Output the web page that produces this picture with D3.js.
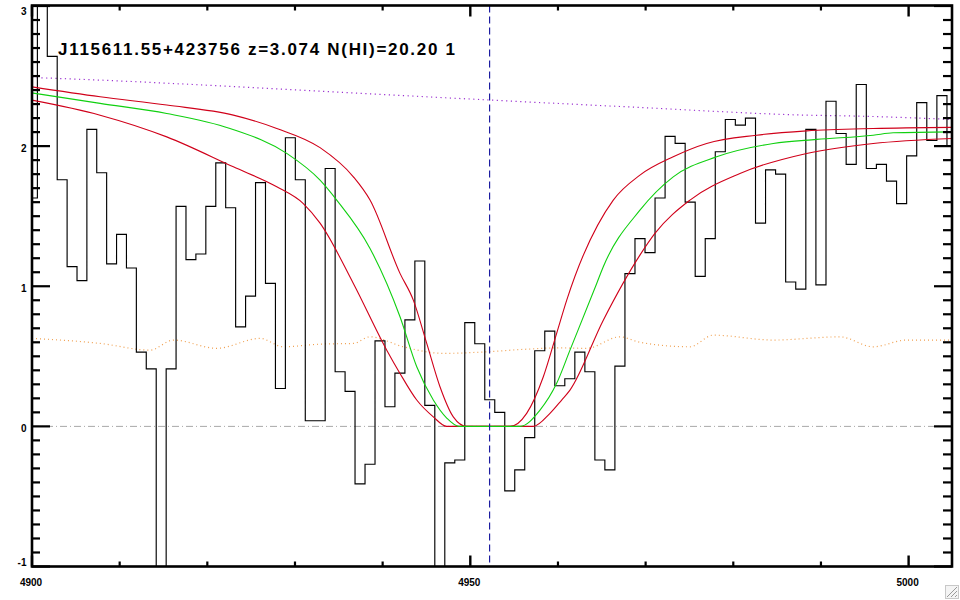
<!DOCTYPE html>
<html><head><meta charset="utf-8">
<script src="https://cdn.jsdelivr.net/npm/d3@7"></script>
<style>html,body{margin:0;padding:0;background:#fff;}svg{display:block;}</style>
</head><body>
<svg id="c" width="960" height="600"></svg>
<script>
// ---------------- data ----------------
const titleText = "J115611.55+423756 z=3.074 N(HI)=20.20 1";
const wavelengths = [4900.05,4901.18,4902.31,4903.44,4904.57,4905.70,4906.82,4907.95,4909.08,4910.21,
 4911.34,4912.47,4913.60,4914.74,4915.87,4917.00,4918.13,4919.26,4920.40,4921.53,
 4922.66,4923.80,4924.93,4926.07,4927.20,4928.34,4929.47,4930.61,4931.74,4932.88,
 4934.01,4935.15,4936.28,4937.42,4938.56,4939.70,4940.83,4941.97,4943.11,4944.24,
 4945.38,4946.52,4947.66,4948.80,4949.94,4951.08,4952.22,4953.36,4954.50,4955.64,
 4956.78,4957.92,4959.07,4960.21,4961.35,4962.50,4963.64,4964.78,4965.92,4967.07,
 4968.21,4969.36,4970.50,4971.65,4972.79,4973.94,4975.08,4976.23,4977.37,4978.52,
 4979.66,4980.81,4981.96,4983.11,4984.25,4985.40,4986.55,4987.70,4988.85,4990.00,
 4991.15,4992.30,4993.45,4994.60,4995.75,4996.90,4998.05,4999.20,5000.35,5001.50,
 5002.65,5003.80,5004.95];
const flux = [1.63,3.40,2.64,1.76,1.14,1.04,2.12,1.81,1.16,1.37,
 1.13,0.53,0.41,-1.40,0.41,1.57,1.19,1.23,1.57,1.88,
 1.56,0.71,0.93,1.74,1.02,0.27,2.06,1.76,0.04,0.04,
 1.84,0.39,0.25,-0.41,-0.27,0.61,0.14,0.38,0.76,1.18,
 0.15,-1.40,-0.26,-0.24,0.74,0.59,0.19,0.10,-0.46,-0.31,
 -0.08,0.54,0.68,0.29,0.34,0.53,0.39,-0.24,-0.31,0.43,
 1.09,1.34,1.24,1.63,2.07,2.02,1.60,1.07,1.34,1.96,
 2.19,2.15,2.20,1.45,1.83,1.80,1.03,0.98,2.12,1.01,
 2.32,2.09,1.87,2.44,1.84,1.87,1.75,1.59,1.93,2.31,
 2.04,2.36,2.00];

// model profile N(HI)=20.20 (green) and its +/- bounds (red)
const fitWave   = [4900.0,4907.77,4915.37,4922.59,4929.06,4932.86,4934.76,4938.56,4941.98,4943.89,4945.78,4947.31,4948.71,4955.67,4957.95,4959.85,4961.37,4964.42,4965.17,4969.35,4973.15,4978.10,4984.56,4989.51,4995.96,4998.24,5005.0];
const fitFlux   = [2.380,2.305,2.233,2.126,1.948,1.757,1.615,1.270,0.782,0.425,0.188,0.059,0.0,0.0,0.116,0.307,0.544,1.020,1.139,1.543,1.781,1.924,2.019,2.048,2.078,2.095,2.102];
const upperWave = [4900.0,4907.77,4915.37,4922.97,4927.92,4932.86,4936.66,4938.56,4941.98,4943.50,4945.03,4946.54,4948.06,4949.59,4954.53,4956.43,4958.33,4959.85,4961.00,4966.31,4969.35,4973.15,4976.96,4982.66,4988.37,4995.96,5005.0];
const upperFlux = [2.423,2.352,2.293,2.221,2.126,1.989,1.781,1.615,1.092,0.901,0.592,0.283,0.068,0.0,0.0,0.093,0.354,0.664,0.901,1.615,1.793,1.924,2.019,2.078,2.109,2.126,2.134];
const lowerWave = [4900.0,4907.77,4915.37,4922.97,4927.92,4930.95,4932.86,4936.66,4940.47,4941.98,4943.89,4945.78,4947.31,4957.19,4959.09,4960.42,4961.37,4965.17,4969.35,4971.06,4975.06,4980.76,4988.37,4995.96,5005.0];
const lowerFlux = [2.328,2.221,2.066,1.852,1.710,1.590,1.450,1.020,0.544,0.378,0.188,0.068,0.0,0.0,0.093,0.188,0.259,0.758,1.222,1.377,1.615,1.805,1.948,2.019,2.055];

// continuum-like dotted purple line and orange dotted error line
const contWave = [4900.0,4907.77,4932.86,4951.87,4969.35,4988.37,4994.40,5005.0];
const contFlux = [2.490,2.471,2.392,2.330,2.276,2.221,2.214,2.190];
const errWave  = [4900.0,4903.5,4907.77,4913.47,4916.13,4921.08,4926.02,4928.67,4932.86,4936.66,4938.56,4942.36,4946.92,4951.87,4955.67,4960.0,4963.27,4967.07,4969.35,4975.06,4977.71,4984.56,4992.17,4995.96,4999.77,5005.0];
const errFlux  = [0.628,0.615,0.592,0.544,0.616,0.557,0.628,0.568,0.587,0.592,0.639,0.568,0.521,0.532,0.548,0.560,0.557,0.639,0.600,0.568,0.651,0.616,0.639,0.568,0.616,0.616];

const absorberWave = 4952.2;
const xMajorTicks = [4900, 4950, 5000];
const xMinorTicks = [4910,4920,4930,4940,4960,4970,4980,4990];
const yMajorTicks = [-1, 0, 1, 2, 3];
const yTickLabels = ["-1", "0", "1", "2", "3"];

// ---------------- drawing ----------------
const svg = d3.select("#c");
const L = 32, R = 952, T = 5.5, B = 566.5;
const x = d3.scaleLinear().domain([4900, 5004.95]).range([L, R]);
const y = d3.scaleLinear().domain([-1, 3]).range([B, T + 0.5]);

svg.append("rect").attr("width", 960).attr("height", 600).attr("fill", "#fff");
svg.append("defs").append("clipPath").attr("id", "clip")
  .append("rect").attr("x", L).attr("y", T).attr("width", R - L).attr("height", B - T);
const g = svg.append("g").attr("clip-path", "url(#clip)");

const smooth = d3.line().x(d => x(d[0])).y(d => y(d[1])).curve(d3.curveMonotoneX);
const zipped = (a, b) => a.map((v, i) => [v, b[i]]);

// orange error (dotted)
g.append("path").attr("d", smooth(zipped(errWave, errFlux)))
  .attr("fill", "none").attr("stroke", "#f0a050").attr("stroke-width", 1.2)
  .attr("stroke-dasharray", "1,3");
// purple dotted
g.append("path").attr("d", smooth(zipped(contWave, contFlux)))
  .attr("fill", "none").attr("stroke", "#9a30d0").attr("stroke-width", 1.2)
  .attr("stroke-dasharray", "1.2,3.5");
// zero line dash-dot
g.append("line").attr("x1", L).attr("x2", R).attr("y1", y(0)).attr("y2", y(0))
  .attr("stroke", "#a8a8a8").attr("stroke-width", 1).attr("stroke-dasharray", "7,3,1,3");

// spectrum histogram
const step = d3.line().x(d => x(d[0])).y(d => y(d[1])).curve(d3.curveStep);
g.append("path").attr("d", step(zipped(wavelengths, flux)))
  .attr("fill", "none").attr("stroke", "#000").attr("stroke-width", 1.15);

// profiles
g.append("path").attr("d", smooth(zipped(lowerWave, lowerFlux)))
  .attr("fill", "none").attr("stroke", "#d0001a").attr("stroke-width", 1.1);
g.append("path").attr("d", smooth(zipped(upperWave, upperFlux)))
  .attr("fill", "none").attr("stroke", "#d0001a").attr("stroke-width", 1.1);
g.append("path").attr("d", smooth(zipped(fitWave, fitFlux)))
  .attr("fill", "none").attr("stroke", "#10d010").attr("stroke-width", 1.1);

// absorber dashed line
g.append("line").attr("x1", x(absorberWave)).attr("x2", x(absorberWave))
  .attr("y1", T).attr("y2", B)
  .attr("stroke", "#1c1ca0").attr("stroke-width", 1.2).attr("stroke-dasharray", "7,4");

// frame
svg.append("rect").attr("x", L).attr("y", T).attr("width", R - L).attr("height", B - T)
  .attr("fill", "none").attr("stroke", "#000").attr("stroke-width", 2.6);

// ticks helper
function ticks(vals, fn, w) {
  vals.forEach(v => { const p = fn(v); svg.append("line")
    .attr("x1", p[0]).attr("y1", p[1]).attr("x2", p[2]).attr("y2", p[3])
    .attr("stroke", "#000").attr("stroke-width", w); });
}
const yMinor = d3.range(-1, 3.0001, 0.1).map(v => +v.toFixed(1)).filter(v => !yMajorTicks.includes(v));
ticks(yMinor, v => [L, y(v), L + 8, y(v)], 2.2);
ticks(yMajorTicks, v => [L, y(v), L + 18, y(v)], 2.2);
ticks(yMinor, v => [R, y(v), R - 9, y(v)], 2.2);
ticks(yMajorTicks, v => [R, y(v), R - 18, y(v)], 2.2);
ticks(xMinorTicks, v => [x(v), B, x(v), B - 5], 2.2);
ticks(xMajorTicks, v => [x(v), B, x(v), B - 11], 2.4);
ticks(xMinorTicks, v => [x(v), T, x(v), T + 5], 2.2);
ticks(xMajorTicks, v => [x(v), T, x(v), T + 11], 2.4);

// labels
const lab = {"font-family": "'Liberation Sans', Arial, sans-serif", "font-size": "10px", "font-weight": "bold"};
yMajorTicks.forEach((v, i) => {
  const t = svg.append("text").attr("x", 26.5)
    .attr("y", Math.min(Math.max(y(v) + 5.5, 15), 566))
    .attr("text-anchor", "end").text(yTickLabels[i]);
  Object.entries(lab).forEach(([k, val]) => t.attr(k, val));
});
xMajorTicks.forEach(v => {
  const t = svg.append("text").attr("x", x(v) - 1).attr("y", 586)
    .attr("text-anchor", "middle").text(String(v));
  Object.entries(lab).forEach(([k, val]) => t.attr(k, val));
});

// title
svg.append("text").attr("x", 58).attr("y", 55)
  .attr("font-family", "'Liberation Sans', Arial, sans-serif").attr("font-size", "17px")
  .attr("font-weight", "bold").attr("textLength", 397).attr("lengthAdjust", "spacing")
  .text(titleText);

// small resize grip in the bottom-right corner of the window
const grip = svg.append("g");
grip.append("rect").attr("x", 945.5).attr("y", 585.5).attr("width", 13).attr("height", 13)
  .attr("fill", "#f4f4f4").attr("stroke", "#c8c8c8");
[0, 4, 8].forEach(o => grip.append("line")
  .attr("x1", 947 + o).attr("y1", 597).attr("x2", 957).attr("y2", 587 + o)
  .attr("stroke", "#9a9a9a").attr("stroke-width", 1));
</script>
</body></html>
